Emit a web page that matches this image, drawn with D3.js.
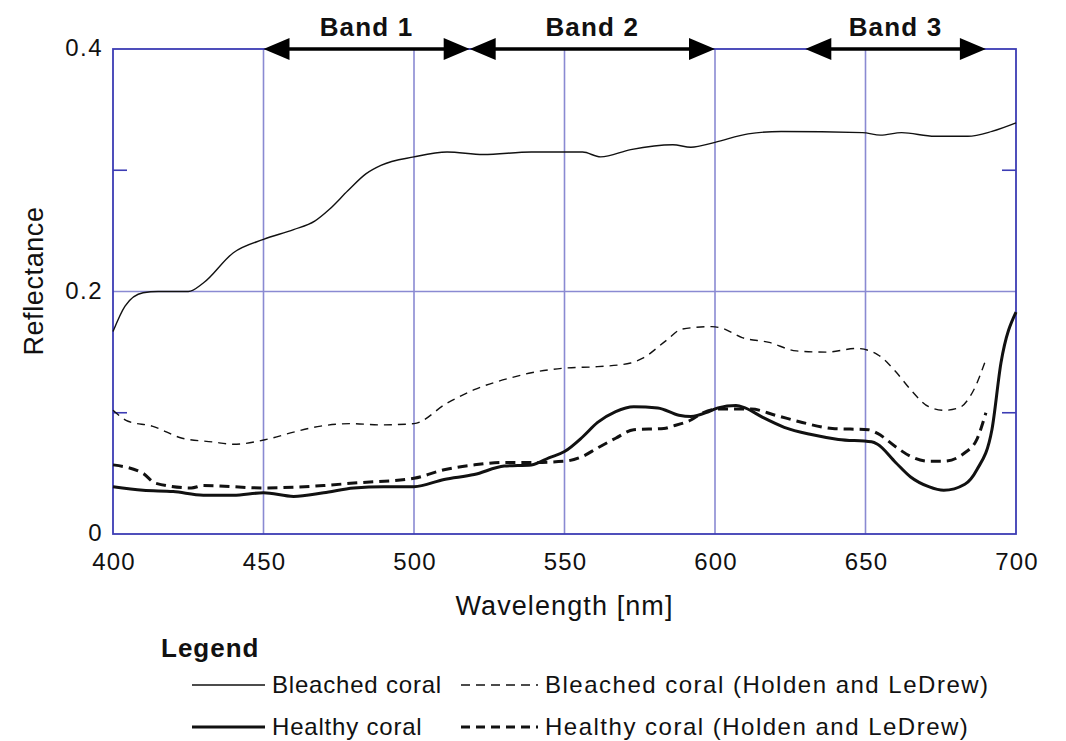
<!DOCTYPE html>
<html>
<head>
<meta charset="utf-8">
<script src="https://cdn.jsdelivr.net/npm/d3@7.9.0/dist/d3.min.js"></script>
<style>
  body { margin: 0; background: #fff; }
  svg { font-family: "Liberation Sans", Arial, sans-serif; fill: #111; }
</style>
</head>
<body>
<svg id="chart" width="1066" height="741"></svg>
<script>
// wavelengths (nm) and reflectance
const bleachedWl = [400, 404, 410, 415, 420, 425, 430, 440, 450, 460, 467, 472, 478, 484, 489, 500, 511, 523, 539, 551, 556, 562, 572, 586, 592, 600, 611, 622, 649, 655, 662, 673, 684, 692, 700];
const bleached   = [0.167, 0.188, 0.199, 0.2, 0.2, 0.2, 0.207, 0.232, 0.243, 0.251, 0.258, 0.268, 0.283, 0.297, 0.304, 0.311, 0.315, 0.313, 0.315, 0.315, 0.315, 0.311, 0.317, 0.321, 0.319, 0.323, 0.330, 0.332, 0.331, 0.329, 0.331, 0.328, 0.328, 0.332, 0.339];

const bleachedHLWl = [400, 405, 413, 423, 433, 440, 451, 460, 469, 479, 489, 500, 511, 520, 534, 539, 551, 561, 572, 576, 584, 589, 599, 602, 609, 618, 627, 637, 647, 654, 660, 665, 671, 676, 681, 686, 690];
const bleachedHL   = [0.102, 0.093, 0.089, 0.079, 0.076, 0.074, 0.078, 0.084, 0.089, 0.091, 0.090, 0.091, 0.108, 0.119, 0.130, 0.133, 0.137, 0.138, 0.141, 0.145, 0.160, 0.169, 0.171, 0.170, 0.162, 0.158, 0.151, 0.150, 0.153, 0.148, 0.134, 0.119, 0.105, 0.102, 0.104, 0.119, 0.144];

const healthyWl = [400, 410, 420, 430, 440, 450, 460, 470, 480, 490, 500, 510, 520, 530, 539, 545, 550, 556, 561, 567, 573, 581, 588, 592, 598, 601, 607, 610, 616, 623, 632, 641, 652, 654, 660, 665, 671, 676, 683, 687, 692, 695, 700];
const healthy   = [0.039, 0.036, 0.035, 0.032, 0.032, 0.034, 0.031, 0.034, 0.038, 0.039, 0.039, 0.045, 0.049, 0.056, 0.057, 0.063, 0.068, 0.080, 0.092, 0.101, 0.105, 0.104, 0.098, 0.097, 0.101, 0.104, 0.106, 0.104, 0.096, 0.088, 0.082, 0.078, 0.076, 0.074, 0.059, 0.047, 0.039, 0.036, 0.041, 0.053, 0.086, 0.141, 0.183];

const healthyHLWl = [400, 410, 414, 426, 430, 450, 470, 480, 500, 510, 520, 530, 539, 550, 556, 561, 567, 573, 583, 586, 592, 596, 601, 612, 620, 629, 639, 651, 654, 660, 665, 671, 676, 683, 687, 690];
const healthyHL   = [0.057, 0.050, 0.042, 0.038, 0.040, 0.038, 0.040, 0.042, 0.046, 0.053, 0.057, 0.059, 0.059, 0.060, 0.064, 0.071, 0.079, 0.086, 0.087, 0.089, 0.094, 0.100, 0.103, 0.103, 0.098, 0.092, 0.087, 0.086, 0.083, 0.072, 0.064, 0.060, 0.060, 0.067, 0.078, 0.100];

const xTicks = [400, 450, 500, 550, 600, 650, 700];
const yLabelTicks = [0, 0.2, 0.4];
const yMinorTicks = [0.1, 0.3];

const bandNames = ["Band 1", "Band 2", "Band 3"];
const bandStart = [450, 518.5, 630];
const bandEnd   = [518.5, 600, 690];

const legendNames = ["Bleached coral", "Healthy coral", "Bleached coral (Holden and LeDrew)", "Healthy coral (Holden and LeDrew)"];

const svg = d3.select('#chart');
const plotL = 113, plotR = 1016, plotT = 49, plotB = 534;

const x = d3.scaleLinear().domain([400, 700]).range([plotL, plotR]);
const y = d3.scaleLinear().domain([0, 0.4]).range([plotB, plotT]);

const frameColor = '#3c3cb4';
const gridColor = '#8a8ad2';

// grid lines
svg.append('g').selectAll('line')
  .data(xTicks.slice(1, -1))
  .enter().append('line')
  .attr('x1', d => x(d)).attr('x2', d => x(d))
  .attr('y1', plotT).attr('y2', plotB)
  .attr('stroke', gridColor).attr('stroke-width', 1.6);

svg.append('line')
  .attr('x1', plotL).attr('x2', plotR)
  .attr('y1', y(0.2)).attr('y2', y(0.2))
  .attr('stroke', gridColor).attr('stroke-width', 1.6);

// minor ticks inside on both sides
yMinorTicks.forEach(t => {
  svg.append('line').attr('x1', plotL).attr('x2', plotL + 14)
    .attr('y1', y(t)).attr('y2', y(t)).attr('stroke', frameColor).attr('stroke-width', 1.6);
  svg.append('line').attr('x1', plotR - 14).attr('x2', plotR)
    .attr('y1', y(t)).attr('y2', y(t)).attr('stroke', frameColor).attr('stroke-width', 1.6);
});

// frame
svg.append('rect')
  .attr('x', plotL).attr('y', plotT)
  .attr('width', plotR - plotL).attr('height', plotB - plotT)
  .attr('fill', 'none').attr('stroke', frameColor).attr('stroke-width', 1.8);

// axis labels
svg.append('g').selectAll('text')
  .data(xTicks)
  .enter().append('text')
  .attr('x', d => x(d) + 1).attr('y', 570)
  .attr('text-anchor', 'middle')
  .attr('font-size', 24).attr('letter-spacing', 1.2)
  .text(d => d);

svg.append('g').selectAll('text')
  .data(yLabelTicks)
  .enter().append('text')
  .attr('x', 103).attr('y', d => y(d) + 7)
  .attr('text-anchor', 'end')
  .attr('font-size', 24).attr('letter-spacing', 1.5)
  .text(d => d === 0 ? '0' : d.toFixed(1));

svg.append('text')
  .attr('x', x(550)).attr('y', 615)
  .attr('text-anchor', 'middle')
  .attr('font-size', 27).attr('letter-spacing', 1.1)
  .text('Wavelength [nm]');

svg.append('text')
  .attr('transform', `translate(43, 281) rotate(-90)`)
  .attr('text-anchor', 'middle')
  .attr('font-size', 27).attr('letter-spacing', 0.6)
  .text('Reflectance');

// curves
const line = d3.line().x(d => x(d[0])).y(d => y(d[1])).curve(d3.curveMonotoneX);
const series = [
  { wl: bleachedWl, v: bleached, w: 1.4, dash: null },
  { wl: healthyWl, v: healthy, w: 3, dash: null },
  { wl: bleachedHLWl, v: bleachedHL, w: 1.4, dash: '8,6' },
  { wl: healthyHLWl, v: healthyHL, w: 3, dash: '10,6' }
];
series.forEach(s => {
  svg.append('path')
    .datum(d3.zip(s.wl, s.v))
    .attr('d', line)
    .attr('fill', 'none')
    .attr('stroke', '#111')
    .attr('stroke-width', s.w)
    .attr('stroke-dasharray', s.dash);
});

// band arrows
const headLen = 26, headHalf = 11;
bandNames.forEach((name, i) => {
  const x0 = x(bandStart[i]), x1 = x(bandEnd[i]), yy = plotT;
  svg.append('line')
    .attr('x1', x0 + headLen - 2).attr('x2', x1 - headLen + 2)
    .attr('y1', yy).attr('y2', yy)
    .attr('stroke', '#000').attr('stroke-width', 3.5);
  svg.append('path')
    .attr('d', `M${x0},${yy} L${x0 + headLen},${yy - headHalf} L${x0 + headLen},${yy + headHalf} Z`)
    .attr('fill', '#000');
  svg.append('path')
    .attr('d', `M${x1},${yy} L${x1 - headLen},${yy - headHalf} L${x1 - headLen},${yy + headHalf} Z`)
    .attr('fill', '#000');
  svg.append('text')
    .attr('x', (x0 + x1) / 2).attr('y', 36)
    .attr('text-anchor', 'middle')
    .attr('font-size', 26).attr('font-weight', 'bold').attr('letter-spacing', 1.2)
    .text(name);
});

// legend
svg.append('text')
  .attr('x', 161).attr('y', 657)
  .attr('font-size', 26).attr('font-weight', 'bold').attr('letter-spacing', 1)
  .text('Legend');

const legRows = [693, 735];
const legCols = [{ lx0: 192, lx1: 265, tx: 272, ls: 0.8 }, { lx0: 461, lx1: 538, tx: 545, ls: 1.5 }];
series.forEach((s, i) => {
  const col = legCols[Math.floor(i / 2)];
  const ry = legRows[i % 2];
  svg.append('line')
    .attr('x1', col.lx0).attr('x2', col.lx1)
    .attr('y1', ry - 8).attr('y2', ry - 8)
    .attr('stroke', '#111').attr('stroke-width', s.w)
    .attr('stroke-dasharray', s.dash ? '9,6' : null);
  svg.append('text')
    .attr('x', col.tx).attr('y', ry)
    .attr('font-size', 24).attr('letter-spacing', col.ls)
    .text(legendNames[i]);
});
</script>
</body>
</html>
